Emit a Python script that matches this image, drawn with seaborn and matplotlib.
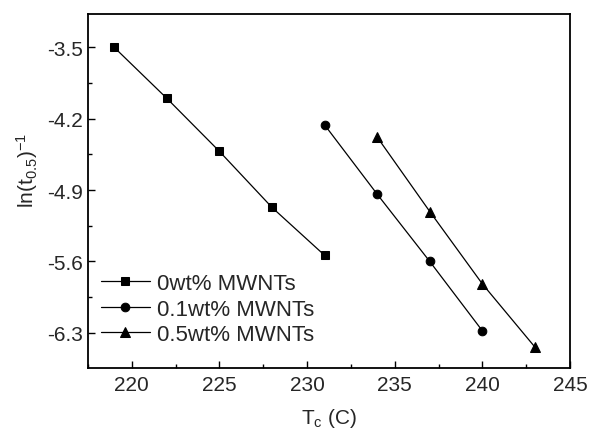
import matplotlib
matplotlib.use("Agg")
import matplotlib.pyplot as plt
import seaborn as sns
import pandas as pd
from matplotlib.ticker import MultipleLocator

sns.set_style("ticks")
plt.rcParams['font.family'] = ['Liberation Sans', 'DejaVu Sans']
plt.rcParams['mathtext.fontset'] = 'custom'
plt.rcParams['mathtext.rm'] = 'Liberation Sans'
plt.rcParams['mathtext.it'] = 'Liberation Sans'

labels = ["0wt% MWNTs", "0.1wt% MWNTs", "0.5wt% MWNTs"]
x0 = [219, 222, 225, 228, 231]
y0 = [-3.50, -4.00, -4.52, -5.07, -5.54]
x1 = [231, 234, 237, 240]
y1 = [-4.26, -4.94, -5.60, -6.28]
x2 = [234, 237, 240, 243]
y2 = [-4.38, -5.11, -5.82, -6.44]
markers = ['s', 'o', '^']
msizes = [5.4, 6.2, 6.8]

fig = plt.figure(figsize=(5.89, 4.31), dpi=100)
ax = fig.add_axes([0.1494, 0.1439, 0.8183, 0.8206])

for xs, ys, lab, m, ms in zip([x0, x1, x2], [y0, y1, y2], labels, markers, msizes):
    df = pd.DataFrame({"x": xs, "y": ys})
    sns.lineplot(data=df, x="x", y="y", ax=ax, color="black", linewidth=0.9,
                 marker=m, markersize=ms, markeredgecolor="black",
                 markerfacecolor="black", label=lab)

ax.set_xlim(217.5, 245)
ax.set_ylim(-6.645, -3.175)
ax.xaxis.set_major_locator(MultipleLocator(5))
ax.xaxis.set_minor_locator(MultipleLocator(2.5))
ax.set_yticks([-3.5, -4.2, -4.9, -5.6, -6.3])
ax.set_yticklabels(["-3.5", "-4.2", "-4.9", "-5.6", "-6.3"])
ax.yaxis.set_minor_locator(MultipleLocator(0.35))
ax.tick_params(which='both', direction='in', labelsize=15, color='black')
ax.tick_params(which='major', length=5, width=1)
ax.tick_params(which='minor', length=3, width=1)
ax.tick_params(axis='x', pad=5)
for s in ax.spines.values():
    s.set_linewidth(1.3)
    s.set_color('black')

ax.set_xlabel(r'T$_\mathrm{c}$ (C)', fontsize=15, labelpad=9)
ax.set_ylabel(r'ln(t$_{0.5}$)$^{-1}$', fontsize=15)
ax.yaxis.set_label_coords(-0.10, 0.56)

leg = ax.legend(loc='lower left', bbox_to_anchor=(0.027, 0.065), frameon=False,
                fontsize=16, handlelength=2.2, handletextpad=0.3, labelspacing=0.2,
                borderaxespad=0.0, borderpad=0.0)

fig.savefig("out.png", dpi=100)
